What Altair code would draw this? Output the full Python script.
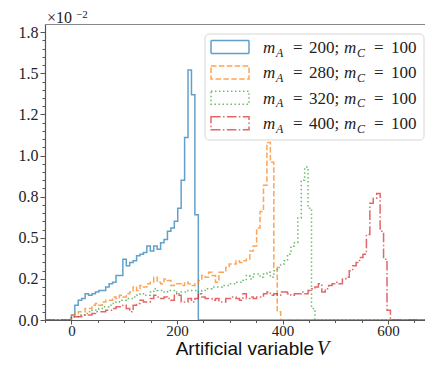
import altair as alt
import pandas as pd

# ---------------- data (histogram heights, units of 1e-2, bins of BIN_W starting at 0) ----------------
BIN_W = 6.5
X_DOMAIN = [-50, 670]
Y_DOMAIN = [0, 1.8]

m_A = [200, 280, 320, 400]
m_C = [100, 100, 100, 100]
series = [f"m_A = {a}; m_C = {c}" for a, c in zip(m_A, m_C)]

h_200 = [0.03, 0.09, 0.12, 0.13, 0.16, 0.15, 0.16, 0.17, 0.18, 0.18,
         0.20, 0.22, 0.23, 0.27, 0.27, 0.37, 0.33, 0.35, 0.36, 0.39,
         0.40, 0.41, 0.45, 0.42, 0.45, 0.43, 0.47, 0.49, 0.54, 0.56,
         0.60, 0.68, 0.85, 1.11, 1.52, 1.37, 0.64]

h_280 = [0.03, 0.04, 0.05, 0.05, 0.07, 0.07, 0.09, 0.10, 0.09, 0.11,
         0.12, 0.12, 0.14, 0.13, 0.15, 0.14, 0.16, 0.17, 0.20, 0.18,
         0.21, 0.20, 0.22, 0.23, 0.26, 0.23, 0.22, 0.25, 0.24, 0.21,
         0.22, 0.22, 0.21, 0.23, 0.22, 0.21, 0.22, 0.24, 0.27, 0.26,
         0.29, 0.27, 0.23, 0.29, 0.29, 0.32, 0.34, 0.34, 0.36, 0.35,
         0.36, 0.37, 0.42, 0.45, 0.56, 0.66, 0.82, 1.08, 0.96, 0.32,
         0.05]

h_320 = [0.02, 0.02, 0.03, 0.03, 0.04, 0.05, 0.06, 0.06, 0.07, 0.08,
         0.08, 0.09, 0.10, 0.11, 0.12, 0.12, 0.13, 0.13, 0.14, 0.15,
         0.16, 0.15, 0.15, 0.17, 0.19, 0.18, 0.18, 0.17, 0.18, 0.18,
         0.17, 0.16, 0.17, 0.17, 0.18, 0.18, 0.18, 0.16, 0.18, 0.19,
         0.19, 0.20, 0.20, 0.20, 0.21, 0.21, 0.22, 0.22, 0.23, 0.23,
         0.24, 0.27, 0.25, 0.28, 0.28, 0.26, 0.28, 0.29, 0.26, 0.30,
         0.32, 0.34, 0.36, 0.40, 0.45, 0.47, 0.62, 0.85, 0.93, 0.68,
         0.07]

h_400 = [0.02, 0.02, 0.02, 0.03, 0.03, 0.03, 0.04, 0.05, 0.05, 0.05,
         0.06, 0.06, 0.07, 0.08, 0.08, 0.09, 0.07, 0.05, 0.09, 0.10,
         0.12, 0.11, 0.11, 0.13, 0.15, 0.14, 0.13, 0.14, 0.13, 0.12,
         0.16, 0.15, 0.11, 0.11, 0.13, 0.11, 0.13, 0.16, 0.14, 0.13,
         0.13, 0.12, 0.13, 0.11, 0.11, 0.13, 0.13, 0.14, 0.13, 0.12,
         0.16, 0.13, 0.14, 0.13, 0.14, 0.14, 0.16, 0.17, 0.15, 0.16,
         0.15, 0.17, 0.17, 0.16, 0.15, 0.16, 0.16, 0.17, 0.16, 0.18,
         0.19, 0.20, 0.22, 0.17, 0.19, 0.21, 0.22, 0.23, 0.22, 0.25,
         0.26, 0.30, 0.33, 0.35, 0.38, 0.40, 0.52, 0.71, 0.74, 0.77,
         0.54, 0.37, 0.06]

heights = [h_200, h_280, h_320, h_400]

x_major = [0, 200, 400, 600]
x_minor = [-50, 50, 100, 150, 250, 300, 350, 450, 500, 550, 650]
y_major = [0, 0.25, 0.5, 0.75, 1.0, 1.25, 1.5, 1.75]
y_major_labels = ["0.0", "0.2", "0.5", "0.8", "1.0", "1.2", "1.5", "1.8"]
y_minor = [v / 100 for v in range(5, 180, 5) if v % 25 != 0]

colors = ["#1f77b4", "#ff7f0e", "#2ca02c", "#d62728"]
dashes = [[1, 0], [5.5, 2.4], [1.5, 2.5], [9.6, 2.4, 1.5, 2.4]]

# ---------------- build step-outline table ----------------
rows = []
for name, h in zip(series, heights):
    rows.append({"series": name, "x": X_DOMAIN[0], "v": 0.0})
    for i, v in enumerate(h):
        rows.append({"series": name, "x": i * BIN_W, "v": v})
    rows.append({"series": name, "x": len(h) * BIN_W, "v": 0.0})
    rows.append({"series": name, "x": X_DOMAIN[1], "v": 0.0})
df = pd.DataFrame(rows)

label_expr = " : ".join(
    [f"datum.value == {v} ? '{s}'" for v, s in zip(y_major, y_major_labels)]
) + " : ''"

SERIF = "Liberation Serif"
SANS = "Liberation Sans"
AX = "#555555"
H = 296

xs = alt.Scale(domain=X_DOMAIN, nice=False, zero=False)
ys = alt.Scale(domain=Y_DOMAIN, nice=False, zero=False)

lines = alt.Chart(df).mark_line(
    interpolate="step-after", strokeWidth=1.5, opacity=0.7, clip=True
).encode(
    x=alt.X("x:Q", scale=xs, axis=alt.Axis(
        orient="bottom", values=x_major, format="d", title=None, grid=False,
        tickSize=4, tickColor=AX, domainColor=AX, domainWidth=1.2,
        labelFont=SERIF, labelFontSize=15, labelColor="#222", labelPadding=-1)),
    y=alt.Y("v:Q", scale=ys, axis=alt.Axis(
        orient="left", values=y_major, labelExpr=label_expr, title=None, grid=False,
        tickSize=5, tickColor=AX, domainColor=AX, domainWidth=1.2,
        labelFont=SERIF, labelFontSize=16, labelColor="#222", labelPadding=2)),
    color=alt.Color("series:N", scale=alt.Scale(domain=series, range=colors), legend=None),
    strokeDash=alt.StrokeDash("series:N", scale=alt.Scale(domain=series, range=dashes), legend=None),
)

minor = alt.Chart(df).mark_line(opacity=0).encode(
    x=alt.X("x:Q", scale=xs, axis=alt.Axis(
        orient="bottom", values=x_minor, labels=False, domain=False, title=None,
        grid=False, tickSize=2.5, tickColor=AX)),
    y=alt.Y("v:Q", scale=ys, axis=alt.Axis(
        orient="left", values=y_minor, labels=False, domain=False, title=None,
        grid=False, tickSize=3, tickColor=AX)),
)

top = alt.Chart(df).mark_line(opacity=0).encode(
    x=alt.X("x:Q", scale=xs, axis=alt.Axis(
        orient="top", labels=False, ticks=False, domain=True, title=None,
        grid=False, domainColor="#888888", domainWidth=1.2)),
)

layers = [lines, minor, top]

def txt(s, x, y, size, font=SERIF, style="normal", align="left", color="#222"):
    return alt.Chart(pd.DataFrame({"t": [s]})).mark_text(
        align=align, baseline="alphabetic", font=font, fontSize=size,
        fontStyle=style, color=color
    ).encode(text="t:N", x=alt.value(x), y=alt.value(y))

# ×10^-2 offset label
layers.append(txt("×10", 2, -1.5, 16))
layers.append(txt("−2", 31, -6, 11))

# x title
layers.append(txt("Artificial variable", 269, 330.8, 19, font=SANS, align="right", color="#111"))
layers.append(txt("V", 272, 330.6, 20, font=SERIF, style="italic", color="#111"))

# legend box
LX = -8
layers.append(alt.Chart(pd.DataFrame({"a": [0]})).mark_rect(
    fill="white", fillOpacity=0.85, stroke="#d6d6d6", strokeWidth=1, cornerRadius=4
).encode(x=alt.value(168 + LX), x2=alt.value(379), y=alt.value(10), y2=alt.value(116)))

for i, (a, c, col, dsh) in enumerate(zip(m_A, m_C, colors, dashes)):
    yc = 23 + 25.4 * i
    layers.append(alt.Chart(pd.DataFrame({"a": [0]})).mark_rect(
        fill="transparent", stroke=col, strokeWidth=1.5, strokeDash=dsh, opacity=0.7
    ).encode(x=alt.value(174 + LX), x2=alt.value(212 + LX), y=alt.value(yc - 6.5), y2=alt.value(yc + 6.5)))
    base = yc + 6
    layers.append(txt("m", 226 + LX, base, 17, style="italic"))
    layers.append(txt("A", 239 + LX, base + 3.5, 12, style="italic"))
    layers.append(txt("=", 256 + LX, base, 17))
    layers.append(txt(f"{a};", 272 + LX, base, 17))
    layers.append(txt("m", 307 + LX, base, 17, style="italic"))
    layers.append(txt("C", 320 + LX, base + 3.5, 12, style="italic"))
    layers.append(txt("=", 337 + LX, base, 17))
    layers.append(txt(f"{c}", 354 + LX, base, 17))

chart = alt.layer(*layers).resolve_axis(
    x="independent", y="independent"
).properties(
    width=380, height=H,
    autosize=alt.AutoSizeParams(type="none"),
    padding={"left": 37, "top": 16, "right": 0, "bottom": 351 - 16 - H},
).configure_view(stroke=None)

chart.save("out.html", embed_options={"renderer": "svg", "actions": False})
